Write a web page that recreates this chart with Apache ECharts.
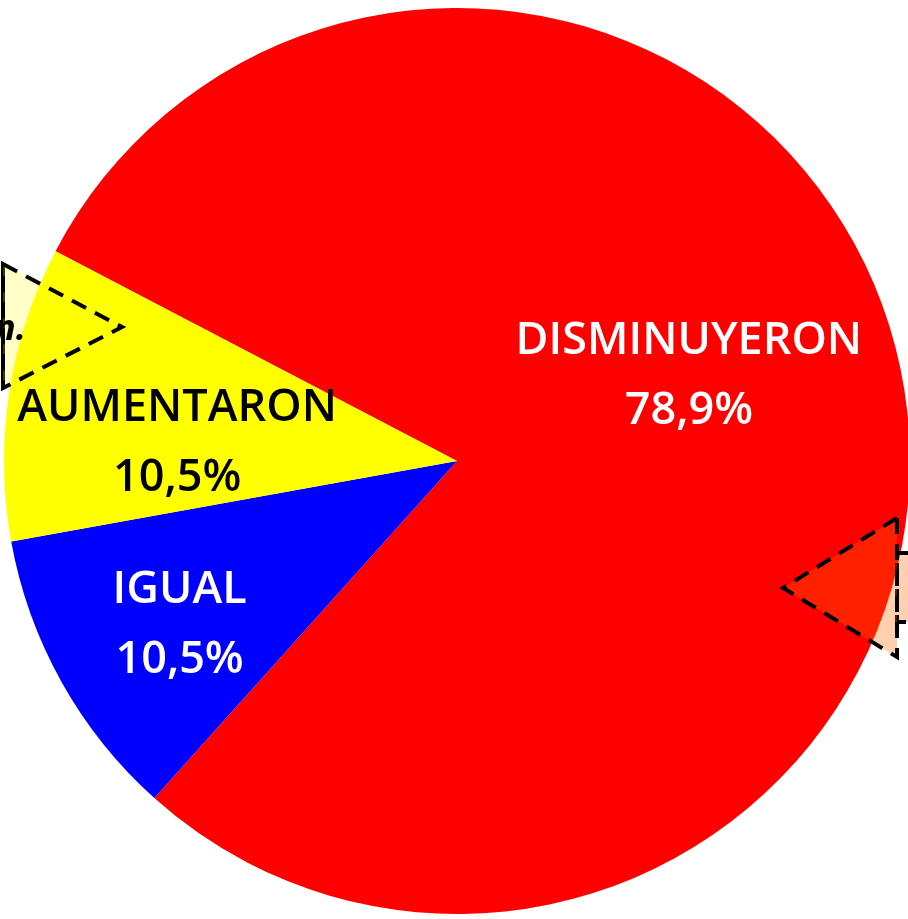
<!DOCTYPE html>
<html>
<head>
<meta charset="utf-8">
<script src="https://cdn.jsdelivr.net/npm/echarts@6/dist/echarts.min.js"></script>
<style>
  html, body { margin: 0; padding: 0; background: #fff; }
  #chart { width: 908px; height: 919px; }
</style>
</head>
<body>
<div id="chart"></div>
<script>
  // datos del gráfico (orden horario desde startAngle)
  const categories = ['DISMINUYERON', 'IGUAL', 'AUMENTARON'];
  const values = [78.9, 10.5, 10.5];
  const colors = ['#ff0000', '#0000ff', '#ffff00'];
  const labelColors = ['#ffffff', '#ffffff', '#000000'];
  // desplazamiento de cada etiqueta respecto a su posición "inside"
  const labelShift = [[6, -44], [-77, 52], [-53, 17]];

  const chart = echarts.init(document.getElementById('chart'));

  const pieData = categories.map((name, i) => ({
    name: name,
    value: values[i],
    itemStyle: { color: colors[i] },
    label: { color: labelColors[i] }
  }));

  const dashStyle = {
    stroke: '#000',
    lineWidth: 4,
    lineDash: [16, 10]
  };

  const option = {
    backgroundColor: '#ffffff',
    animation: false,
    series: [{
      type: 'pie',
      center: [457, 461],
      radius: 453,
      startAngle: 152.4,
      clockwise: true,
      avoidLabelOverlap: false,
      itemStyle: { borderWidth: 0 },
      label: {
        show: true,
        position: 'inside',
        fontFamily: 'Open Sans',
        fontWeight: 600,
        fontSize: 45,
        lineHeight: 70,
        align: 'center',
        formatter: p => p.name + '\n' + p.value.toFixed(1).replace('.', ',') + '%'
      },
      labelLine: { show: false },
      labelLayout: p => ({ dx: labelShift[p.dataIndex][0], dy: labelShift[p.dataIndex][1] }),
      emphasis: { disabled: true },
      data: pieData
    }],
    graphic: [
      // llamada izquierda (amarilla)
      {
        type: 'rect', z: 100,
        shape: { x: -100, y: 262, width: 103, height: 126 },
        style: Object.assign({ fill: 'rgba(255,255,0,0.22)' }, dashStyle)
      },
      {
        type: 'polygon', z: 100,
        shape: { points: [[3, 264], [122, 327], [3, 388]] },
        style: Object.assign({ fill: 'rgba(255,255,0,0.22)' }, dashStyle)
      },
      {
        type: 'text', z: 101,
        x: -6, y: 348,
        style: {
          text: 'n.', fill: '#000',
          fontFamily: 'Open Sans',
          fontStyle: 'italic',
          fontWeight: 'bold',
          fontSize: 36,
          verticalAlign: 'bottom'
        }
      },
      // llamada derecha (naranja)
      {
        type: 'rect', z: 100,
        shape: { x: 897, y: 553, width: 100, height: 69 },
        style: Object.assign({ fill: 'rgba(255,103,0,0.31)' }, dashStyle)
      },
      {
        type: 'polygon', z: 100,
        shape: { points: [[897, 518], [783, 588], [897, 657]] },
        style: Object.assign({ fill: 'rgba(255,103,0,0.31)' }, dashStyle)
      }
    ]
  };

  chart.setOption(option);
</script>
</body>
</html>
